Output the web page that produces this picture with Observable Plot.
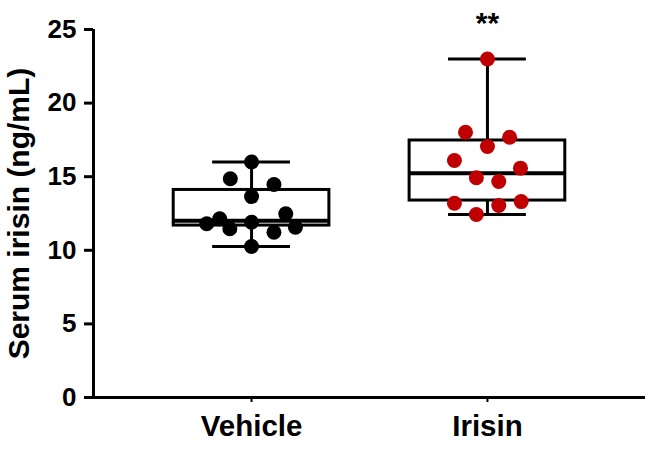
<!DOCTYPE html>
<html>
<head>
<meta charset="utf-8">
<script src="https://cdn.jsdelivr.net/npm/d3@7"></script>
<script src="https://cdn.jsdelivr.net/npm/@observablehq/plot@0.6"></script>
<style>
  html, body { margin: 0; padding: 0; background: #fff; }
  #chart svg { display: block; }
</style>
</head>
<body>
<div id="chart"></div>
<script>
// ---- data ----
const categories = ["Vehicle", "Irisin"];
const vehicleValues = [16.0, 14.86, 14.47, 13.65, 12.48, 11.8, 12.14, 11.46, 11.91, 11.23, 11.57, 10.26];
const vehicleJitter = [0, -0.09, 0.095, 0, 0.145, -0.19, -0.135, -0.092, 0, 0.095, 0.186, 0];
const irisinValues = [23.0, 18.02, 17.68, 17.05, 16.1, 15.58, 14.93, 14.67, 13.2, 13.04, 13.31, 12.43];
const irisinJitter = [0, -0.093, 0.094, 0, -0.14, 0.14, -0.047, 0.048, -0.14, 0.048, 0.143, -0.047];
const boxMin = [10.26, 12.43];
const boxQ1 = [11.68, 13.38];
const boxMedian = [12.0, 15.24];
const boxQ3 = [14.1, 17.46];
const boxMax = [16.0, 23.0];
const yTicks = [0, 5, 10, 15, 20, 25];
const yLabel = "Serum irisin (ng/mL)";
const significance = ["", "**"];
const pointColors = ["#000000", "#c00000"];

// ---- tables built from the arrays ----
const points = [
  ...vehicleValues.map((v, j) => ({group: 0, x: 0 + vehicleJitter[j], y: v})),
  ...irisinValues.map((v, j) => ({group: 1, x: 1 + irisinJitter[j], y: v}))
];
const boxes = categories.map((c, i) => ({
  i, name: c, min: boxMin[i], q1: boxQ1[i], median: boxMedian[i], q3: boxQ3[i], max: boxMax[i], sig: significance[i]
}));

const BOX_HALF = 0.33, CAP_HALF = 0.165;
const FONT = "'Liberation Sans', Arial, Helvetica, sans-serif";

const chart = Plot.plot({
  width: 653,
  height: 449,
  marginLeft: 93,
  marginRight: 8,
  marginTop: 29,
  marginBottom: 52,
  style: {fontFamily: FONT, fontWeight: "bold", color: "#000", background: "#fff", overflow: "visible"},
  x: {domain: [-0.67, 1.67], axis: null},
  y: {domain: [0, 25], axis: null},
  marks: [
    // axes lines
    Plot.ruleX([-0.67], {stroke: "#000", strokeWidth: 3}),
    Plot.ruleY([0], {stroke: "#000", strokeWidth: 3}),
    Plot.axisY({
      ticks: yTicks, tickSize: 9, tickPadding: 8, strokeWidth: 3,
      fontSize: 26, fontWeight: "bold", label: null
    }),
    Plot.axisY({
      ticks: [], tickSize: 0, fontSize: 30, fontWeight: "bold",
      label: yLabel, labelAnchor: "center", labelOffset: 86, labelArrow: "none"
    }),
    Plot.axisX({
      ticks: [0, 1], tickFormat: (d) => categories[d], tickSize: 5, tickPadding: 13, strokeWidth: 2,
      fontSize: 29.5, fontWeight: "bold", label: null
    }),
    // whiskers
    Plot.ruleX(boxes, {x: "i", y1: "min", y2: "max", stroke: "#000", strokeWidth: 3}),
    Plot.ruleY(boxes, {y: "min", x1: (d) => d.i - CAP_HALF, x2: (d) => d.i + CAP_HALF, stroke: "#000", strokeWidth: 3}),
    Plot.ruleY(boxes, {y: "max", x1: (d) => d.i - CAP_HALF, x2: (d) => d.i + CAP_HALF, stroke: "#000", strokeWidth: 3}),
    // boxes
    Plot.rect(boxes, {x1: (d) => d.i - BOX_HALF, x2: (d) => d.i + BOX_HALF, y1: "q1", y2: "q3", fill: "#fff", stroke: "#000", strokeWidth: 3}),
    Plot.ruleY(boxes, {y: "median", x1: (d) => d.i - BOX_HALF, x2: (d) => d.i + BOX_HALF, stroke: "#000", strokeWidth: 4}),
    // points
    Plot.dot(points, {x: "x", y: "y", r: 7.5, fill: (d) => pointColors[d.group], stroke: "none"}),
    // significance
    Plot.text(boxes, {x: "i", y: () => 25, text: "sig", dy: -6, fontSize: 30, fontWeight: "bold", fill: "#000", lineAnchor: "middle", clip: false})
  ]
});
document.getElementById("chart").appendChild(chart);
</script>
</body>
</html>
